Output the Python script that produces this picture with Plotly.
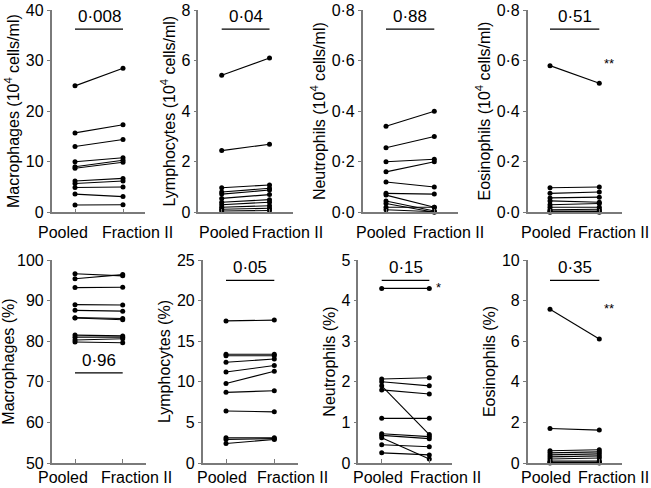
import plotly.graph_objects as go

# ---------------- data ----------------
categories = ["Pooled", "Fraction II"]

mac_abs_pooled = [25.0, 15.7, 13.0, 10.0, 9.0, 8.7, 6.2, 5.7, 4.9, 3.6, 1.45]
mac_abs_frac = [28.5, 17.3, 14.4, 10.8, 10.3, 9.9, 6.7, 6.2, 5.0, 3.1, 1.5]

lym_abs_pooled = [5.42, 2.44, 0.97, 0.80, 0.72, 0.55, 0.40, 0.30, 0.20, 0.12, 0.05]
lym_abs_frac = [6.10, 2.69, 1.08, 0.95, 0.88, 0.70, 0.50, 0.40, 0.26, 0.16, 0.07]

neu_abs_pooled = [0.34, 0.255, 0.20, 0.16, 0.12, 0.075, 0.068, 0.045, 0.035, 0.02, 0.01]
neu_abs_frac = [0.40, 0.30, 0.21, 0.20, 0.10, 0.072, 0.02, 0.005, 0.0, 0.02, 0.002]

eos_abs_pooled = [0.58, 0.097, 0.075, 0.057, 0.045, 0.03, 0.02, 0.01, 0.005, 0.002, 0.0]
eos_abs_frac = [0.51, 0.10, 0.08, 0.06, 0.04, 0.035, 0.02, 0.012, 0.005, 0.003, 0.0]

mac_pct_pooled = [96.6, 95.4, 93.2, 89.0, 87.6, 85.8, 85.7, 81.5, 81.0, 80.3, 79.8]
mac_pct_frac = [96.1, 96.4, 93.3, 88.9, 87.4, 85.6, 85.3, 81.3, 81.0, 80.6, 79.6]

lym_pct_pooled = [17.5, 13.4, 13.2, 12.4, 11.2, 9.8, 8.7, 6.4, 3.1, 2.9, 2.4]
lym_pct_frac = [17.6, 13.4, 13.2, 12.8, 12.0, 11.3, 8.9, 6.3, 3.1, 3.0, 2.9]

neu_pct_pooled = [4.3, 2.07, 2.0, 1.9, 1.8, 1.1, 0.72, 0.68, 0.62, 0.45, 0.25]
neu_pct_frac = [4.3, 2.1, 1.9, 0.7, 1.7, 1.1, 0.65, 0.6, 0.1, 0.4, 0.2]

eos_pct_pooled = [7.57, 1.7, 0.6, 0.5, 0.4, 0.3, 0.2, 0.1, 0.05, 0.02, 0.0]
eos_pct_frac = [6.11, 1.62, 0.65, 0.55, 0.45, 0.35, 0.25, 0.1, 0.05, 0.02, 0.0]

p_values = ["0·008", "0·04", "0·88", "0·51", "0·96", "0·05", "0·15", "0·35"]
p_levels = [36.2, 7.24, 0.724, 0.724, 72.2, 22.5, 4.5, 9.0]
stars = ["", "", "", "**", "", "", "*", "**"]
star_levels = [None, None, None, 0.59, None, None, 4.32, 7.6]

y_titles = [
    "Macrophages (10<sup>4</sup> cells/ml)",
    "Lymphocytes (10<sup>4</sup> cells/ml)",
    "Neutrophils (10<sup>4</sup> cells/ml)",
    "Eosinophils (10<sup>4</sup> cells/ml)",
    "Macrophages (%)",
    "Lymphocytes (%)",
    "Neutrophils (%)",
    "Eosinophils (%)",
]
y_ranges = [(0, 40), (0, 8), (0, 0.8), (0, 0.8), (50, 100), (0, 25), (0, 5), (0, 10)]
y_tickvals = [
    [0, 10, 20, 30, 40],
    [0, 2, 4, 6, 8],
    [0, 0.2, 0.4, 0.6, 0.8],
    [0, 0.2, 0.4, 0.6, 0.8],
    [50, 60, 70, 80, 90, 100],
    [0, 5, 10, 15, 20, 25],
    [0, 1, 2, 3, 4, 5],
    [0, 2, 4, 6, 8, 10],
]
y_ticktext = [
    ["0", "10", "20", "30", "40"],
    ["0", "2", "4", "6", "8"],
    ["0·0", "0·2", "0·4", "0·6", "0·8"],
    ["0·0", "0·2", "0·4", "0·6", "0·8"],
    ["50", "60", "70", "80", "90", "100"],
    ["0", "5", "10", "15", "20", "25"],
    ["0", "1", "2", "3", "4", "5"],
    ["0", "2", "4", "6", "8", "10"],
]

panels = [
    (mac_abs_pooled, mac_abs_frac),
    (lym_abs_pooled, lym_abs_frac),
    (neu_abs_pooled, neu_abs_frac),
    (eos_abs_pooled, eos_abs_frac),
    (mac_pct_pooled, mac_pct_frac),
    (lym_pct_pooled, lym_pct_frac),
    (neu_pct_pooled, neu_pct_frac),
    (eos_pct_pooled, eos_pct_frac),
]

# ---------------- layout geometry (pixels) ----------------
W, H = 651, 488
# (y-axis x, pooled x, fraction x, x-axis end)
px_geom = [
    (51.5, 75.0, 123.0, 145.0),
    (198.3, 221.7, 269.5, 293.0),
    (362.7, 386.0, 434.3, 458.0),
    (527.7, 550.0, 599.3, 621.7),
    (51.7, 75.0, 122.7, 146.0),
    (202.7, 226.0, 274.3, 298.0),
    (358.3, 381.7, 429.3, 451.7),
    (527.7, 550.0, 599.3, 621.7),
]
# centre of the category labels (Pooled, Fraction II) in px
label_px = [
    (63, 137), (224, 287), (381, 448), (546, 613),
    (63, 136), (222, 292), (378, 445), (546, 613),
]
label_row_y = [232, 477]
row_y = [(10.0, 212.3), (260.0, 463.0)]  # (top px, bottom px)

FONT = "Liberation Sans, Arial, sans-serif"
AXC = "#7a7a7a"

fig = go.Figure()
shapes = []
annotations = []

for i, (pooled, frac) in enumerate(panels):
    n = i + 1
    xa = "x" if n == 1 else f"x{n}"
    ya = "y" if n == 1 else f"y{n}"
    xs, ys = [], []
    for a, b in zip(pooled, frac):
        xs += [0, 1, None]
        ys += [a, b, None]
    fig.add_trace(go.Scatter(
        x=xs, y=ys, mode="lines+markers", xaxis=xa, yaxis=ya,
        line=dict(color="black", width=1.1),
        marker=dict(color="black", size=5),
        cliponaxis=False, showlegend=False, hoverinfo="skip",
    ))

    ax, pp, fp, ex = px_geom[i]
    s = fp - pp
    r0 = -(pp - ax) / s
    r1 = 1 + (ex - fp) / s
    top, bot = row_y[0] if i < 4 else row_y[1]
    xdom = [ax / W, ex / W]
    ydom = [(H - bot) / H, (H - top) / H]

    fig.layout[f"xaxis{n if n > 1 else ''}"] = dict(
        domain=xdom, range=[r0, r1], anchor=ya,
        tickvals=[0, 1], showticklabels=False,
        ticks="inside", ticklen=4, tickcolor=AXC,
        showline=True, linecolor=AXC, linewidth=1.5,
        showgrid=False, zeroline=False, automargin=False,
    )
    fig.layout[f"yaxis{n if n > 1 else ''}"] = dict(
        domain=ydom, range=list(y_ranges[i]), anchor=xa,
        tickvals=y_tickvals[i], ticktext=y_ticktext[i],
        ticks="outside", ticklen=3, tickcolor=AXC,
        showline=True, linecolor=AXC, linewidth=1.5,
        showgrid=False, zeroline=False, automargin=False,
        tickfont=dict(family=FONT, size=16, color="black"),
        title=dict(text=y_titles[i], font=dict(family=FONT, size=16, color="black"), standoff=2),
    )

    # category labels
    ly = label_row_y[0] if i < 4 else label_row_y[1]
    for cat, cx in zip(categories, label_px[i]):
        annotations.append(dict(xref="paper", yref="paper", x=cx / W, y=(H - ly) / H,
                                text=cat, showarrow=False, xanchor="center", yanchor="middle",
                                font=dict(family=FONT, size=16, color="black")))

    shapes.append(dict(type="line", xref=xa, yref=ya, x0=0, x1=1,
                       y0=p_levels[i], y1=p_levels[i], line=dict(color="black", width=1.2)))
    annotations.append(dict(xref=xa, yref=ya, x=0.5, y=p_levels[i], text=p_values[i],
                            showarrow=False, yanchor="bottom", yshift=1,
                            font=dict(family=FONT, size=17, color="black")))
    if stars[i]:
        annotations.append(dict(xref=xa, yref=ya, x=1.2, y=star_levels[i], text=stars[i],
                                showarrow=False, xanchor="center", yanchor="middle",
                                font=dict(family=FONT, size=13, color="black")))

fig.update_layout(
    width=W, height=H,
    margin=dict(l=0, r=0, t=0, b=0),
    paper_bgcolor="white", plot_bgcolor="white",
    shapes=shapes, annotations=annotations,
    font=dict(family=FONT, color="black"),
)

fig.write_html("out.html", config={"displayModeBar": False},
               post_script="document.body.style.margin='0';")
